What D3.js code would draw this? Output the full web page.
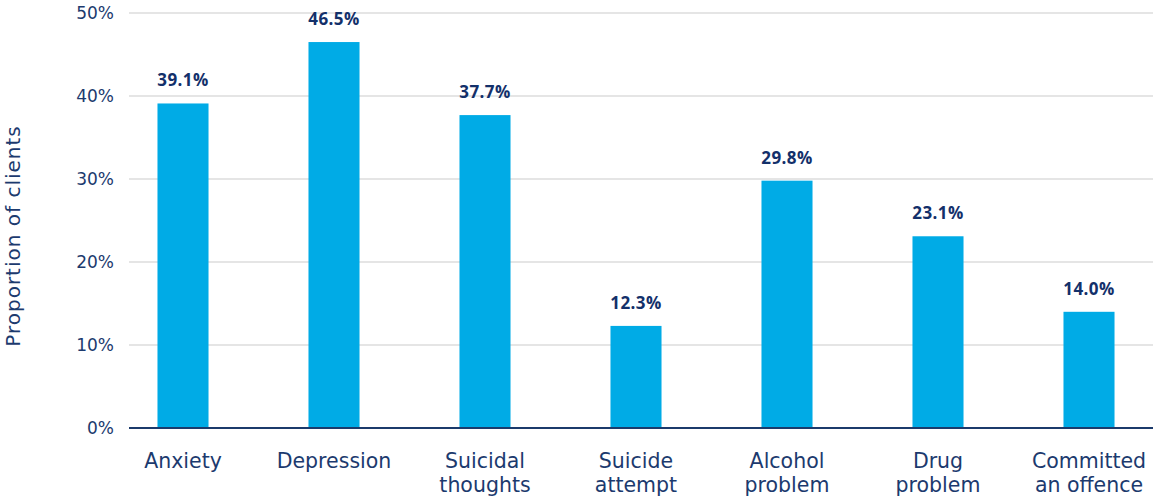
<!DOCTYPE html>
<html><head><meta charset="utf-8">
<script src="https://cdn.jsdelivr.net/npm/d3@7"></script>
<style>body{margin:0;background:#fff;}svg{display:block;}</style>
</head><body>
<svg id="chart" width="1153" height="497"></svg>
<script>
const categories = [["Anxiety"],["Depression"],["Suicidal","thoughts"],["Suicide","attempt"],["Alcohol","problem"],["Drug","problem"],["Committed","an offence"]];
const values = [39.1, 46.5, 37.7, 12.3, 29.8, 23.1, 14.0];
const valueLabels = ["39.1%","46.5%","37.7%","12.3%","29.8%","23.1%","14.0%"];
const yTicks = [0,10,20,30,40,50];
const yTickLabels = ["0%","10%","20%","30%","40%","50%"];
const yTitle = "Proportion of clients";

const svg = d3.select("#chart");
const font = "'DejaVu Sans', sans-serif";
const boldFont = "'Open Sans', sans-serif";
const navy = "#1c3a6e";
const ids = categories.map((c,i)=>i);
const x = d3.scaleBand().domain(ids).range([107.5,1164.5]).paddingInner(0.662).paddingOuter(0.331);
const y = d3.scaleLinear().domain([0,50]).range([428,13]);

// grid
svg.append("g").selectAll("line").data(yTicks.filter(t=>t>0)).join("line")
  .attr("x1",129).attr("x2",1153).attr("y1",d=>y(d)).attr("y2",d=>y(d))
  .attr("stroke","#dcdcdc").attr("stroke-width",1.5);

// y tick labels
svg.append("g").selectAll("text").data(yTicks).join("text")
  .attr("x",114).attr("y",d=>y(d)).attr("dy","0.36em").attr("text-anchor","end")
  .attr("font-family",font).attr("font-size",17).attr("fill",navy)
  .text((d,i)=>yTickLabels[i]);

// y title
svg.append("text").attr("transform","translate(19.5,236) rotate(-90)")
  .attr("text-anchor","middle").attr("font-family",font).attr("font-size",20)
  .attr("letter-spacing",1).attr("fill",navy)
  .text(yTitle);

// bars
svg.append("g").selectAll("rect").data(values).join("rect")
  .attr("x",(d,i)=>x(i)).attr("width",x.bandwidth())
  .attr("y",d=>y(d)).attr("height",d=>y(0)-y(d)).attr("fill","#00abe6");

// value labels
svg.append("g").selectAll("text").data(values).join("text")
  .attr("x",(d,i)=>x(i)+x.bandwidth()/2).attr("y",d=>y(d)-17)
  .attr("text-anchor","middle").attr("font-family",boldFont).attr("font-weight",700)
  .attr("font-size",17).attr("letter-spacing",0.4).attr("fill","#13306a").text((d,i)=>valueLabels[i]);

// axis line
svg.append("line").attr("x1",129).attr("x2",1153).attr("y1",y(0)).attr("y2",y(0))
  .attr("stroke","#1b3a6b").attr("stroke-width",2);

// category labels
const cg = svg.append("g").selectAll("text").data(categories).join("text")
  .attr("x",(d,i)=>x(i)+x.bandwidth()/2).attr("y",468)
  .attr("text-anchor","middle").attr("font-family",font).attr("font-size",20.5).attr("fill",navy);
cg.selectAll("tspan").data(d=>d).join("tspan")
  .attr("x",function(){return this.parentNode.getAttribute("x");})
  .attr("dy",(d,j)=>j===0?0:24).text(d=>d);
</script>
</body></html>
